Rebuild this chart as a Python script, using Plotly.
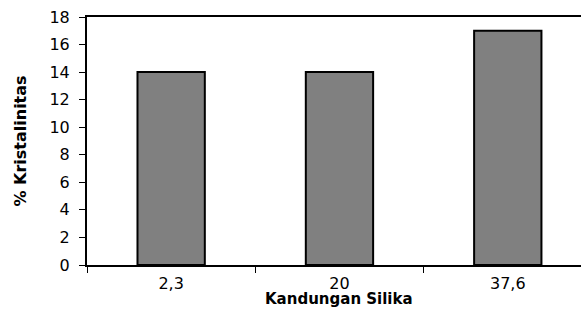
import plotly.graph_objects as go

categories = ["2,3", "20", "37,6"]
values = [14, 14, 17]
y_ticks = [0, 2, 4, 6, 8, 10, 12, 14, 16, 18]
x_title = "Kandungan Silika"
y_title = "% Kristalinitas"

fig = go.Figure(go.Bar(
    x=categories, y=values, width=0.40,
    marker=dict(color="#808080", line=dict(color="black", width=2)),
))

font = dict(family="DejaVu Sans, Arial, sans-serif", size=16, color="black")
title_font = dict(family="DejaVu Sans, Arial, sans-serif", size=15, color="black")

fig.update_layout(
    width=581, height=311,
    margin=dict(l=87, r=0, t=17, b=46),
    paper_bgcolor="white", plot_bgcolor="white",
    showlegend=False, font=font,
    xaxis=dict(
        type="category", range=[-0.5, 2.435],
        showline=True, linecolor="black", linewidth=2, mirror=True,
        ticks="outside", tickson="boundaries", ticklen=6, tickcolor="black", tickwidth=1,
        showgrid=False, tickfont=font, ticklabelstandoff=3,
    ),
    yaxis=dict(
        range=[0, 18], tickvals=y_ticks,
        showline=True, linecolor="black", linewidth=2,
        ticks="outside", ticklen=6, tickcolor="black", tickwidth=1,
        showgrid=False, zeroline=False, tickfont=font, ticklabelstandoff=6,
        title=dict(text="<b>" + y_title + "</b>", font=font, standoff=19),
    ),
    annotations=[dict(
        text="<b>" + x_title + "</b>", xref="x domain", yref="paper",
        x=1.5 / 2.935, y=-0.183, xanchor="center", yanchor="bottom",
        showarrow=False, font=title_font,
    )],
)

fig.write_html("out.html", config={"displayModeBar": False},
               post_script="document.body.style.margin='0';document.body.style.overflow='hidden';")
